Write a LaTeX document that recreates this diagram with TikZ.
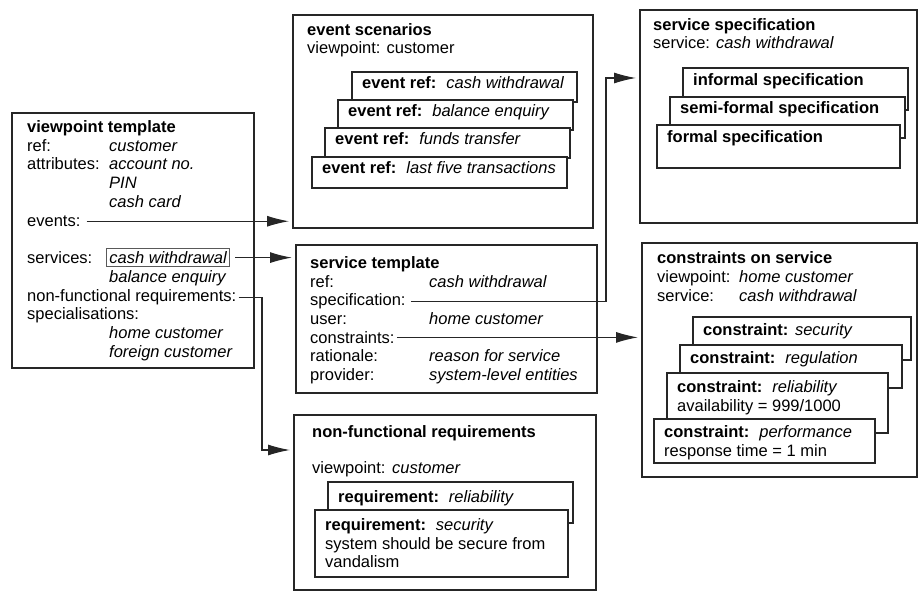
\documentclass[tikz,border=0pt]{standalone}
\usepackage{fontspec}
\setmainfont{Liberation Sans}
\usetikzlibrary{arrows.meta,calc}
\newcommand\kvgap{\hspace{0.6em}}

\begin{document}
\begin{tikzpicture}[x=1pt,y=-1pt,
  txt/.style={anchor=base west, inner sep=0pt, text=black,
              font=\fontsize{16.5}{18.7}\selectfont},
  outerbox/.style={draw=black!85, line width=1.1pt, fill=white,
                   inner sep=0pt, outer sep=0pt, anchor=north west},
  inbox/.style={draw=black!85, line width=1.1pt, fill=white},
  conn/.style={draw=black!85, line width=1.1pt,
               -{Latex[length=22pt,width=11pt]}, shorten >=4pt},
]
\useasboundingbox (0,0) rectangle (919,593);

% ---------- outer boxes ----------
\node[outerbox, minimum width=242pt, minimum height=255pt] (vt)  at (12,113) {};
\node[outerbox, minimum width=300pt, minimum height=213pt] (es)  at (293,15) {};
\node[outerbox, minimum width=301pt, minimum height=148pt] (st)  at (296,245) {};
\node[outerbox, minimum width=302pt, minimum height=175pt] (nfr) at (294,415) {};
\node[outerbox, minimum width=277pt, minimum height=213pt] (ss)  at (640,10) {};
\node[outerbox, minimum width=275pt, minimum height=234pt] (cs)  at (642,243) {};

% ---------- viewpoint template ----------
\node[txt] (vt-t)   at (27,132.5) {\bfseries viewpoint template};
\node[txt] (vt-r)   at (27,151.5) {ref:};
\node[txt] (vt-rv)  at (109,151.5) {\itshape customer};
\node[txt] (vt-a)   at (27,169.5) {attributes:};
\node[txt] (vt-a1)  at (109,169.5) {\itshape account no.};
\node[txt] (vt-a2)  at (109,188.5) {\itshape PIN};
\node[txt] (vt-a3)  at (109,207.5) {\itshape cash card};
\node[txt] (evlbl)  at (27,226.5) {events:};
\node[txt] (vt-s)   at (27,263.5) {services:};
\node[txt, draw=black!65, line width=0.7pt, inner xsep=3pt, inner ysep=3pt]
           (svc)    at (106,263.5) {\itshape cash withdrawal};
\node[txt] (vt-s2)  at (109,282.5) {\itshape balance enquiry};
\node[txt] (nfrlbl) at (27,301.5) {non-functional requirements:};
\node[txt] (vt-sp)  at (27,319.5) {specialisations:};
\node[txt] (vt-sp1) at (109,338.5) {\itshape home customer};
\node[txt] (vt-sp2) at (109,357.5) {\itshape foreign customer};

% ---------- event scenarios ----------
\node[txt] (es-t) at (307,35.5) {\bfseries event scenarios};
\node[txt] (es-v) at (307,53.5) {viewpoint: customer};
\draw[inbox] (352,72)  rectangle (577,102);
\node[txt] (ev1) at (362,88.5)  {\bfseries event ref:\kvgap\mdseries\itshape cash withdrawal};
\draw[inbox] (338,100) rectangle (573,130);
\node[txt] (ev2) at (348,116.5) {\bfseries event ref:\kvgap\mdseries\itshape balance enquiry};
\draw[inbox] (325,128) rectangle (570,158);
\node[txt] (ev3) at (335,144.5) {\bfseries event ref:\kvgap\mdseries\itshape funds transfer};
\draw[inbox] (312,157) rectangle (567,188);
\node[txt] (ev4) at (322,173.5) {\bfseries event ref:\kvgap\mdseries\itshape last five transactions};

% ---------- service template ----------
\node[txt] (st-t)    at (310,268.5) {\bfseries service template};
\node[txt] (st-r)    at (310,287.2) {ref:};
\node[txt] (st-rv)   at (429,287.2) {\itshape cash withdrawal};
\node[txt] (speclbl) at (310,305.9) {specification:};
\node[txt] (st-u)    at (310,324.6) {user:};
\node[txt] (st-uv)   at (429,324.6) {\itshape home customer};
\node[txt] (conlbl)  at (310,343.3) {constraints:};
\node[txt] (st-ra)   at (310,362.0) {rationale:};
\node[txt] (st-rav)  at (429,362.0) {\itshape reason for service};
\node[txt] (st-p)    at (310,380.7) {provider:};
\node[txt] (st-pv)   at (429,380.7) {\itshape system-level entities};

% ---------- non-functional requirements ----------
\node[txt] (nfr-t) at (312,437.5) {\bfseries non-functional requirements};
\node[txt] (nfr-v) at (312,473.5) {viewpoint:\hspace{0.4em}\itshape customer};
\draw[inbox] (328,482) rectangle (573,523);
\node[txt] (rq1) at (338,502.5) {\bfseries requirement:\kvgap\mdseries\itshape reliability};
\draw[inbox] (315,510) rectangle (568,577);
\node[txt] (rq2)  at (325,530.5) {\bfseries requirement:\kvgap\mdseries\itshape security};
\node[txt] (rq2a) at (325,549)   {system should be secure from};
\node[txt] (rq2b) at (325,567.5) {vandalism};

% ---------- service specification ----------
\node[txt] (ss-t) at (653,30.5) {\bfseries service specification};
\node[txt] (ss-s) at (653,49)   {service: \itshape cash withdrawal};
\draw[inbox] (683,68)  rectangle (908,110);
\node[txt] (sp1) at (693,85.5)  {\bfseries informal specification};
\draw[inbox] (670,97)  rectangle (905,138);
\node[txt] (sp2) at (680,113.5) {\bfseries semi-formal specification};
\draw[inbox] (657,125) rectangle (900,168);
\node[txt] (sp3) at (667,142.5) {\bfseries formal specification};

% ---------- constraints on service ----------
\node[txt] (cs-t)  at (657,263.5) {\bfseries constraints on service};
\node[txt] (cs-v)  at (657,282.5) {viewpoint:};
\node[txt] (cs-vv) at (739,282.5) {\itshape home customer};
\node[txt] (cs-s)  at (657,301.5) {service:};
\node[txt] (cs-sv) at (739,301.5) {\itshape cash withdrawal};
\draw[inbox] (693,317) rectangle (911,360);
\node[txt] (c1) at (703,335.5) {\bfseries constraint:\hspace{0.4em}\mdseries\itshape security};
\draw[inbox] (680,345) rectangle (902,388);
\node[txt] (c2) at (690,363.5) {\bfseries constraint:\kvgap\mdseries\itshape regulation};
\draw[inbox] (667,373) rectangle (888,433);
\node[txt] (c3)  at (677,392.5) {\bfseries constraint:\kvgap\mdseries\itshape reliability};
\node[txt] (c3a) at (677,412)   {availability = 999/1000};
\draw[inbox] (654,419) rectangle (875,463);
\node[txt] (c4)  at (664,437.5) {\bfseries constraint:\kvgap\mdseries\itshape performance};
\node[txt] (c4a) at (664,457)   {response time = 1 min};

% ---------- connectors ----------
\draw[conn] ([xshift=6pt]evlbl.east) -- (es.west |- evlbl.east);
\draw[conn] ([xshift=5pt]svc.east) -- (st.west |- svc.east);
\draw[conn] ([xshift=2pt]nfrlbl.east)
  -- ($(nfrlbl.east -| vt.east)+(8,0)$)
  |- ($(nfr.north west)+(0,35)$);
\draw[conn] ([xshift=5pt]speclbl.east)
  -- ($(speclbl.east -| ss.west)+(-34,0)$)
  |- ($(ss.north west)+(0,68)$);
\draw[conn] ([xshift=2pt]conlbl.east) -- (cs.west |- conlbl.east);
\end{tikzpicture}
\end{document}
